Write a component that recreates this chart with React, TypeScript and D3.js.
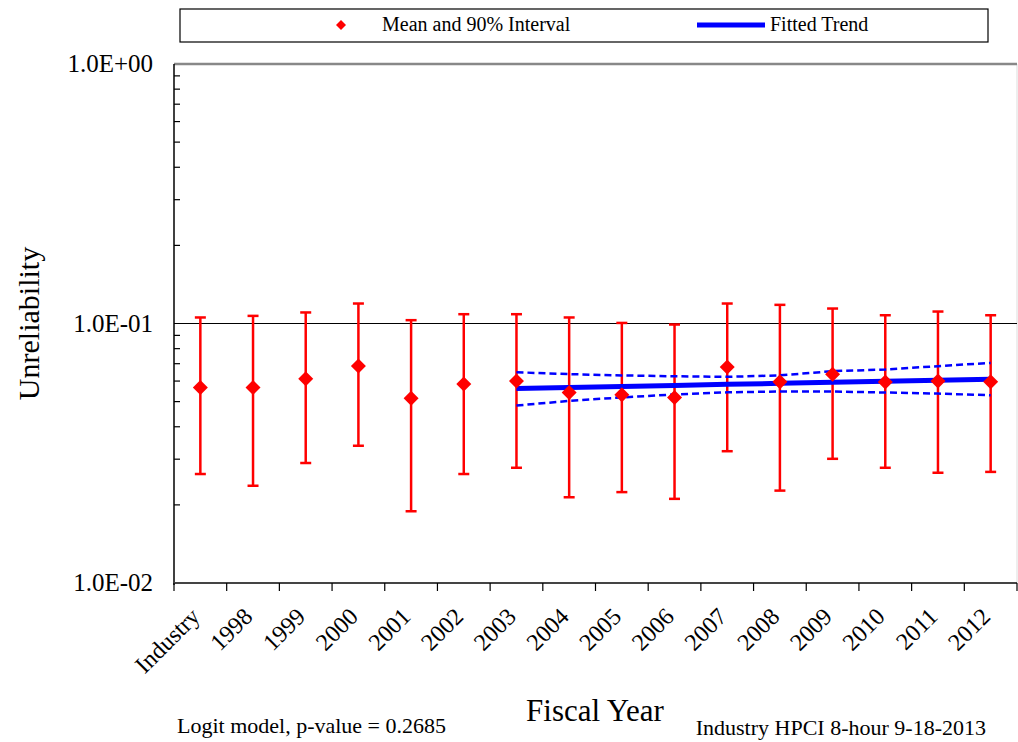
import { useEffect, useRef } from "react";
import * as d3 from "d3";

const categories = [
  "Industry", "1998", "1999", "2000", "2001", "2002", "2003", "2004",
  "2005", "2006", "2007", "2008", "2009", "2010", "2011", "2012",
];
const meanValues = [
  0.0567, 0.0567, 0.0612, 0.0686, 0.0515, 0.0585, 0.0601, 0.0542,
  0.0531, 0.0519, 0.068, 0.0596, 0.0638, 0.0595, 0.0601, 0.0596,
];
const upperValues = [
  0.1055, 0.107, 0.1103, 0.1194, 0.103, 0.1086, 0.1086, 0.1055,
  0.1005, 0.0991, 0.1194, 0.118, 0.1142, 0.1076, 0.1112, 0.1076,
];
const lowerValues = [
  0.0263, 0.0237, 0.029, 0.0338, 0.0189, 0.0263, 0.0278, 0.0214,
  0.0224, 0.0211, 0.0322, 0.0227, 0.0301, 0.0278, 0.0266, 0.0268,
];
const trendYears = ["2003", "2004", "2005", "2006", "2007", "2008", "2009", "2010", "2011", "2012"];
const trendFit = [0.0562, 0.0567, 0.0572, 0.0577, 0.0583, 0.0588, 0.0594, 0.0599, 0.0605, 0.061];
const trendUpper = [0.0649, 0.0638, 0.0631, 0.0626, 0.0623, 0.0631, 0.0655, 0.0665, 0.0685, 0.0705];
const trendLower = [0.0483, 0.0503, 0.0519, 0.0533, 0.0543, 0.0547, 0.0547, 0.0542, 0.0537, 0.0529];
const yTicks = [1, 0.1, 0.01];

export default function App() {
  const svgRef = useRef<SVGSVGElement | null>(null);

  useEffect(() => {
    if (!svgRef.current) return;
    const width = 1018;
    const height = 742;
    const margin = { top: 64, right: 1, bottom: 159, left: 174 };
    const font = "'Liberation Serif', 'Times New Roman', serif";

    const svg = d3.select(svgRef.current);
    svg.selectAll("*").remove();
    svg.attr("font-family", font);

    const x = d3
      .scaleBand<string>()
      .domain(categories)
      .range([margin.left, width - margin.right]);

    const y = d3
      .scaleLog()
      .domain([0.01, 1])
      .range([height - margin.bottom, margin.top]);

    const cx = (c: string) => (x(c) as number) + x.bandwidth() / 2;
    const right = width - margin.right;

    // frame: top line, right edge and gridline at 0.1
    svg
      .append("line")
      .attr("x1", right)
      .attr("x2", right)
      .attr("y1", y(1))
      .attr("y2", y(0.01))
      .attr("stroke", "#ddd")
      .attr("stroke-width", 1);

    svg
      .append("line")
      .attr("x1", margin.left)
      .attr("x2", right)
      .attr("y1", y(1))
      .attr("y2", y(1))
      .attr("stroke", "#888")
      .attr("stroke-width", 2.5);

    svg
      .append("line")
      .attr("x1", margin.left)
      .attr("x2", right)
      .attr("y1", y(0.1))
      .attr("y2", y(0.1))
      .attr("stroke", "#000")
      .attr("stroke-width", 1.2);

    // y axis with minor ticks inside
    const yAxis = svg.append("g").attr("transform", `translate(${margin.left},0)`);
    yAxis
      .append("line")
      .attr("x1", 0)
      .attr("x2", 0)
      .attr("y1", y(1))
      .attr("y2", y(0.01) + 2)
      .attr("stroke", "#000")
      .attr("stroke-width", 1.5);
    const minor: number[] = [];
    [0.01, 0.1].forEach((base) => {
      for (let k = 2; k <= 9; k++) minor.push(base * k);
    });
    yAxis
      .selectAll("line.minor")
      .data(minor)
      .join("line")
      .attr("class", "minor")
      .attr("x1", 0)
      .attr("x2", 6)
      .attr("y1", (d) => y(d))
      .attr("y2", (d) => y(d))
      .attr("stroke", "#000")
      .attr("stroke-width", 1.2);
    yAxis
      .selectAll("text")
      .data(yTicks)
      .join("text")
      .attr("x", -21)
      .attr("y", (d) => y(d))
      .attr("dy", "0.33em")
      .attr("text-anchor", "end")
      .attr("font-size", 25)
      .text((d) => d.toExponential(1).replace("e", "E").replace(/E([+-])(\d)$/, "E$10$2"));

    // x axis
    const xAxisY = y(0.01);
    svg
      .append("line")
      .attr("x1", margin.left)
      .attr("x2", right)
      .attr("y1", xAxisY)
      .attr("y2", xAxisY)
      .attr("stroke", "#444")
      .attr("stroke-width", 2);
    const bounds = categories.map((c) => x(c) as number).concat([right]);
    svg
      .selectAll("line.xtick")
      .data(bounds)
      .join("line")
      .attr("class", "xtick")
      .attr("x1", (d) => d)
      .attr("x2", (d) => d)
      .attr("y1", xAxisY)
      .attr("y2", xAxisY + 8)
      .attr("stroke", "#000")
      .attr("stroke-width", 1.2);
    svg
      .selectAll("text.xlab")
      .data(categories)
      .join("text")
      .attr("class", "xlab")
      .attr("text-anchor", "end")
      .attr("font-size", 24)
      .attr("transform", (d) => `translate(${cx(d) + 1},${xAxisY + 35}) rotate(-45)`)
      .text((d) => d);

    // error bars
    const capW = 5.5;
    const bars = svg.append("g").attr("stroke", "#ff0000").attr("stroke-width", 2.5);
    categories.forEach((c, i) => {
      const px = cx(c);
      bars.append("line").attr("x1", px).attr("x2", px).attr("y1", y(upperValues[i])).attr("y2", y(lowerValues[i]));
      bars.append("line").attr("x1", px - capW).attr("x2", px + capW).attr("y1", y(upperValues[i])).attr("y2", y(upperValues[i]));
      bars.append("line").attr("x1", px - capW).attr("x2", px + capW).attr("y1", y(lowerValues[i])).attr("y2", y(lowerValues[i]));
    });

    // trend lines
    const line = d3
      .line<number>()
      .x((_, i) => cx(trendYears[i]))
      .y((d) => y(d));
    [trendUpper, trendLower].forEach((band) => {
      svg
        .append("path")
        .attr("d", line(band))
        .attr("fill", "none")
        .attr("stroke", "#0000ff")
        .attr("stroke-width", 2.5)
        .attr("stroke-dasharray", "7,4");
    });
    svg
      .append("path")
      .attr("d", line(trendFit))
      .attr("fill", "none")
      .attr("stroke", "#0000ff")
      .attr("stroke-width", 5);

    // diamonds
    const diamond = (r: number) => `M0,${-r}L${r},0L0,${r}L${-r},0Z`;
    svg
      .selectAll("path.mean")
      .data(meanValues)
      .join("path")
      .attr("class", "mean")
      .attr("d", diamond(7.5))
      .attr("transform", (d, i) => `translate(${cx(categories[i])},${y(d)})`)
      .attr("fill", "#ff0000");

    // legend
    const legend = svg.append("g");
    legend
      .append("rect")
      .attr("x", 180)
      .attr("y", 9)
      .attr("width", 808)
      .attr("height", 33)
      .attr("fill", "#fff")
      .attr("stroke", "#000")
      .attr("stroke-width", 1.2);
    legend.append("path").attr("d", diamond(5)).attr("transform", "translate(341,25)").attr("fill", "#ff0000");
    legend
      .append("text")
      .attr("x", 382)
      .attr("y", 31)
      .attr("font-size", 20)
      .text("Mean and 90% Interval");
    legend
      .append("line")
      .attr("x1", 697)
      .attr("x2", 765)
      .attr("y1", 25)
      .attr("y2", 25)
      .attr("stroke", "#0000ff")
      .attr("stroke-width", 5);
    legend
      .append("text")
      .attr("x", 770)
      .attr("y", 31)
      .attr("font-size", 20)
      .text("Fitted Trend");

    // titles
    svg
      .append("text")
      .attr("transform", `translate(39,${(y(1) + y(0.01)) / 2}) rotate(-90)`)
      .attr("text-anchor", "middle")
      .attr("font-size", 30)
      .text("Unreliability");
    svg
      .append("text")
      .attr("x", 595)
      .attr("y", 721)
      .attr("text-anchor", "middle")
      .attr("font-size", 31)
      .text("Fiscal Year");
    svg
      .append("text")
      .attr("x", 177)
      .attr("y", 733)
      .attr("font-size", 22)
      .text("Logit model, p-value = 0.2685");
    svg
      .append("text")
      .attr("x", 986)
      .attr("y", 735)
      .attr("text-anchor", "end")
      .attr("font-size", 22)
      .text("Industry HPCI 8-hour 9-18-2013");
  }, []);

  return (
    <div style={{ position: "absolute", left: 0, top: 0, background: "#fff" }}>
      <svg ref={svgRef} width={1018} height={742} style={{ display: "block" }}></svg>
    </div>
  );
}
